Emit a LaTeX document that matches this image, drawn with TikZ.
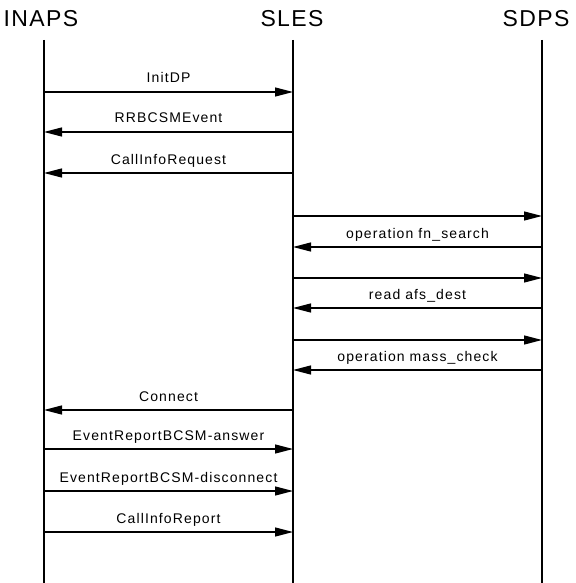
\documentclass[tikz,border=0pt]{standalone}
\usepackage{fontspec}
\setmainfont{Liberation Sans}
\newfontfamily\titlefont[LetterSpace=6]{Liberation Sans}
\newfontfamily\msgfont[LetterSpace=8]{Liberation Sans}
\usetikzlibrary{arrows.meta}

\tikzset{
  entity/.style={font=\titlefont\fontsize{23}{23}\selectfont, inner sep=0pt},
  lifeline/.style={line width=1.4pt},
  msg/.style={line width=1.3pt, -{Triangle[length=18pt,width=9pt]}},
  lbl/.style={midway, anchor=base, yshift=9pt, inner sep=0pt, font=\msgfont\fontsize{14}{14}\selectfont},
}

\begin{document}
\begin{tikzpicture}[x=1pt, y=-1pt]
        \useasboundingbox (0,0) rectangle (575,583);
        % entities
        \node[entity] (inaps) at (41,19) {INAPS};
        \node[entity] (sles) at (292,19) {SLES};
        \node[entity] (sdps) at (536,19) {SDPS};
        \coordinate (inapsTop) at (44,40);
        \coordinate (slesTop) at (293,40);
        \coordinate (sdpsTop) at (542,40);
        \coordinate (inapsEnd) at (44,583);
        \coordinate (slesEnd) at (293,583);
        \coordinate (sdpsEnd) at (542,583);
        \draw[lifeline] (inapsTop) -- (inapsEnd);
        \draw[lifeline] (slesTop) -- (slesEnd);
        \draw[lifeline] (sdpsTop) -- (sdpsEnd);
        % INAPS <-> SLES
        \draw[msg] (inapsTop |- 0,92) -- node[lbl] {InitDP} (slesTop |- 0,92);
        \draw[msg] (slesTop |- 0,132) -- node[lbl] {RRBCSMEvent} (inapsTop |- 0,132);
        \draw[msg] (slesTop |- 0,173) -- node[lbl] {CallInfoRequest} (inapsTop |- 0,173);
        % SLES <-> SDPS
        \draw[msg] (slesTop |- 0,216) -- (sdpsTop |- 0,216);
        \draw[msg] (sdpsTop |- 0,247) -- node[lbl] {operation fn\_search} (slesTop |- 0,247);
        \draw[msg] (slesTop |- 0,278) -- (sdpsTop |- 0,278);
        \draw[msg] (sdpsTop |- 0,308) -- node[lbl] {read afs\_dest} (slesTop |- 0,308);
        \draw[msg] (slesTop |- 0,340) -- (sdpsTop |- 0,340);
        \draw[msg] (sdpsTop |- 0,370) -- node[lbl] {operation mass\_check} (slesTop |- 0,370);
        % INAPS <-> SLES
        \draw[msg] (slesTop |- 0,410) -- node[lbl] {Connect} (inapsTop |- 0,410);
        \draw[msg] (inapsTop |- 0,449) -- node[lbl] {EventReportBCSM-answer} (slesTop |- 0,449);
        \draw[msg] (inapsTop |- 0,491) -- node[lbl] {EventReportBCSM-disconnect} (slesTop |- 0,491);
        \draw[msg] (inapsTop |- 0,532) -- node[lbl] {CallInfoReport} (slesTop |- 0,532);
\end{tikzpicture}
\end{document}
